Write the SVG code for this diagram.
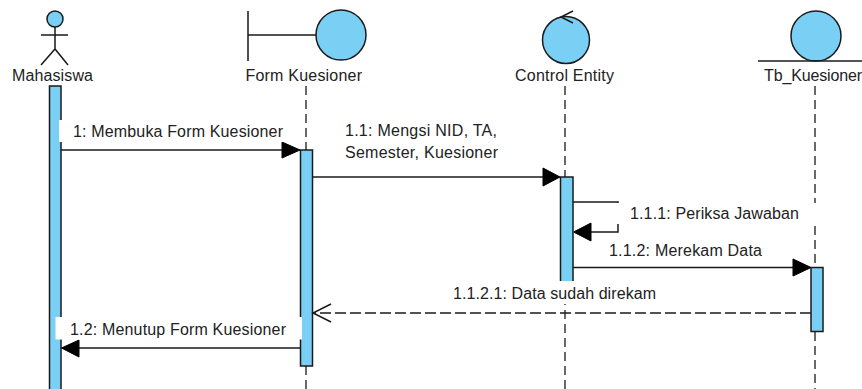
<svg xmlns="http://www.w3.org/2000/svg" width="862" height="389" viewBox="0 0 862 389">
<style>
.s{fill:none;stroke:#1a1a1a;stroke-width:1.5}
.b{fill:#7acff5;stroke:#1a1a1a;stroke-width:1.5}
.life{fill:none;stroke:#1a1a1a;stroke-width:1.3;stroke-dasharray:9 5}
.dash{fill:none;stroke:#1a1a1a;stroke-width:1.3;stroke-dasharray:11 4}
.bg{fill:#fff}
.h{fill:#000;stroke:#000;stroke-width:1}
text{font-family:"Liberation Sans",Arial,sans-serif;font-size:16px;fill:#222}
</style>
<rect width="862" height="389" fill="#fff"/>
<g id="mahasiswa">
<circle class="b" cx="55" cy="19" r="8"/>
<path class="s" d="M55 27V49M41 35H68M41 65L55 49L68 65"/>
<text x="12" y="81" textLength="81">Mahasiswa</text>
<rect class="b" x="49.500" y="86" width="11.500" height="310"/>
</g>
<g id="form-kuesioner">
<path class="s" d="M248 11V61M248 35H316"/>
<circle class="b" cx="341" cy="35" r="25"/>
<text x="245.500" y="81" textLength="116.500">Form Kuesioner</text>
<path class="life" d="M306 86V150M306 366V389"/>
<rect class="b" x="300.500" y="150" width="12" height="216"/>
</g>
<g id="control-entity">
<circle class="b" cx="566" cy="40" r="23.500"/>
<path class="s" d="M573 11L561 17L573 23"/>
<text x="515" y="81" textLength="99">Control Entity</text>
<path class="life" d="M565 86V177M565 282V389"/>
<rect class="b" x="560.500" y="177" width="12.500" height="105"/>
</g>
<g id="tb-kuesioner">
<circle class="b" cx="816" cy="36" r="25"/>
<path class="s" d="M758 61H862"/>
<text x="764" y="81" textLength="98">Tb_Kuesioner</text>
<path class="life" d="M815 86V267M815 332V389"/>
<rect class="b" x="811" y="267.500" width="12" height="64"/>
</g>
<g id="connectors">
<path class="s" d="M61 150H284"/>
<path class="h" d="M282 142L300 150L282 158Z"/>
<path class="s" d="M312.500 177H544"/>
<path class="h" d="M543 168L560 177L543 186Z"/>
<path class="s" d="M573 202H618V232H589"/>
<path class="h" d="M591 223L573.500 232L591 241Z"/>
<path class="s" d="M573 267.500H795"/>
<path class="h" d="M793 259L811 267.500L793 276Z"/>
<path class="dash" d="M811 313H314"/>
<path class="s" d="M331 304L313 313L331 322"/>
<path class="s" d="M300 348H78"/>
<path class="h" d="M79 340L61.500 348L79 357Z"/>
<rect class="bg" x="59" y="120" width="238" height="22"/>
<rect class="bg" x="617" y="203" width="200" height="21"/>
<rect class="bg" x="450" y="281" width="206" height="23"/>
<rect class="bg" x="55.500" y="317" width="246.500" height="22.500"/>
<text x="73" y="137" textLength="210">1: Membuka Form Kuesioner</text>
<text x="345" y="136" textLength="152">1.1: Mengsi NID, TA,</text>
<text x="345" y="158" textLength="153">Semester, Kuesioner</text>
<text x="630" y="219" textLength="169">1.1.1: Periksa Jawaban</text>
<text x="609" y="256" textLength="153">1.1.2: Merekam Data</text>
<text x="453" y="299" textLength="203">1.1.2.1: Data sudah direkam</text>
<text x="70" y="335" textLength="216">1.2: Menutup Form Kuesioner</text>
</g>
</svg>
